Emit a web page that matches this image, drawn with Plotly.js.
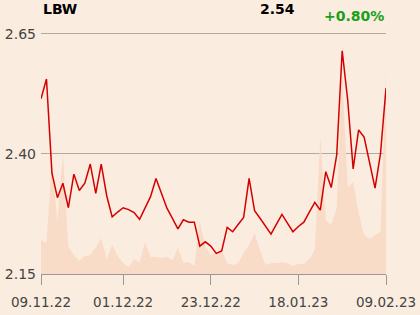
<!DOCTYPE html>
<html>
<head>
<meta charset="utf-8">
<script src="https://cdn.plot.ly/plotly-3.0.1.min.js"></script>
<style>
html,body{margin:0;padding:0;background:#fbece0;}
#chart{width:420px;height:315px;}
</style>
</head>
<body>
<div id="chart"></div>
<script>
// Trading sessions (index) with tick labels
const tickIdx = [0, 15, 31, 47, 63];
const tickLabels = ["09.11.22", "01.12.22", "23.12.22", "18.01.23", "09.02.23"];

// Closing price per session
const price = [
  2.515, 2.556, 2.360, 2.309, 2.339, 2.288, 2.358, 2.324, 2.339, 2.379,
  2.318, 2.379, 2.313, 2.269, 2.279, 2.288, 2.284, 2.278, 2.264, 2.287,
  2.311, 2.349, 2.318, 2.287, 2.266, 2.244, 2.263, 2.258, 2.258, 2.208,
  2.217, 2.208, 2.193, 2.198, 2.247, 2.238, 2.253, 2.268, 2.349, 2.282,
  2.266, 2.250, 2.233, 2.254, 2.274, 2.256, 2.238, 2.249, 2.258, 2.279,
  2.299, 2.283, 2.363, 2.330, 2.398, 2.615, 2.513, 2.369, 2.450, 2.435,
  2.382, 2.329, 2.401, 2.537
];

// Traded volume per session (thousands)
const volume = [
  34, 31, 112, 52, 121, 27, 19, 13, 18, 19,
  27, 36, 15, 29, 18, 11, 7, 15, 11, 32,
  17, 17, 16, 17, 14, 26, 11, 12, 8, 53,
  27, 19, 22, 24, 11, 9, 11, 21, 29, 41,
  24, 9, 11, 11, 12, 11, 8, 10, 10, 15,
  24, 137, 54, 49, 66, 199, 87, 92, 61, 39,
  35, 39, 42, 204
];

const yTicks = [2.15, 2.40, 2.65];
const yTickLabels = ["2.15", "2.40", "2.65"];

const ticker = "LBW";
const lastPrice = "2.54";
const change = "+0.80%";

const sessions = price.map((_, i) => i);

const traces = [
  {
    x: sessions, y: volume, type: "scatter", mode: "lines",
    fill: "tozeroy", fillcolor: "#f8dcc8",
    line: {width: 0, color: "#f8dcc8"},
    xaxis: "x", yaxis: "y", hoverinfo: "skip"
  },
  {
    x: sessions, y: price, type: "scatter", mode: "lines",
    line: {color: "#d40000", width: 1.5},
    xaxis: "x", yaxis: "y2"
  }
];

const font = {family: "DejaVu Sans, sans-serif", size: 14, color: "#444"};

const layout = {
  width: 420, height: 315,
  paper_bgcolor: "#fbece0", plot_bgcolor: "#fbece0",
  margin: {l: 41, r: 34, t: 32, b: 41},
  showlegend: false,
  font: font,
  xaxis: {
    range: [0, 63], tickvals: tickIdx, ticktext: tickLabels,
    showgrid: false, zeroline: false, showline: true,
    linecolor: "#999", linewidth: 1,
    ticks: "outside", ticklen: 10, tickcolor: "#999",
    ticklabelstandoff: 6,
    tickfont: {family: "DejaVu Sans, sans-serif", size: 13.5, color: "#444"},
    fixedrange: true
  },
  yaxis: {
    range: [0, 242], showticklabels: false, showgrid: false,
    zeroline: false, showline: false, fixedrange: true
  },
  yaxis2: {
    overlaying: "y", side: "left",
    range: [2.15, 2.654], tickvals: yTicks, ticktext: yTickLabels,
    showgrid: true, gridcolor: "#b0aaa6", gridwidth: 1,
    zeroline: false, showline: false, ticks: "",
    ticklabelstandoff: 4,
    tickfont: {family: "DejaVu Sans, sans-serif", size: 14, color: "#444"},
    fixedrange: true
  },
  annotations: [
    {text: "<b>" + ticker + "</b>", xref: "paper", yref: "paper", x: 0, y: 1.095,
     xanchor: "left", yanchor: "middle", showarrow: false,
     font: {family: "DejaVu Sans, sans-serif", size: 14, color: "#000"}},
    {text: "<b>" + lastPrice + "</b>", xref: "paper", yref: "paper", x: 0.742, y: 1.095,
     xanchor: "right", yanchor: "middle", showarrow: false,
     font: {family: "DejaVu Sans, sans-serif", size: 14, color: "#000"}},
    {text: "<b>" + change + "</b>", xref: "paper", yref: "paper", x: 0.8145, y: 1.066,
     xanchor: "left", yanchor: "middle", showarrow: false,
     font: {family: "DejaVu Sans, sans-serif", size: 14, color: "#1aa01a"}}
  ]
};

Plotly.newPlot("chart", traces, layout, {displayModeBar: false, staticPlot: true});
</script>
</body>
</html>
